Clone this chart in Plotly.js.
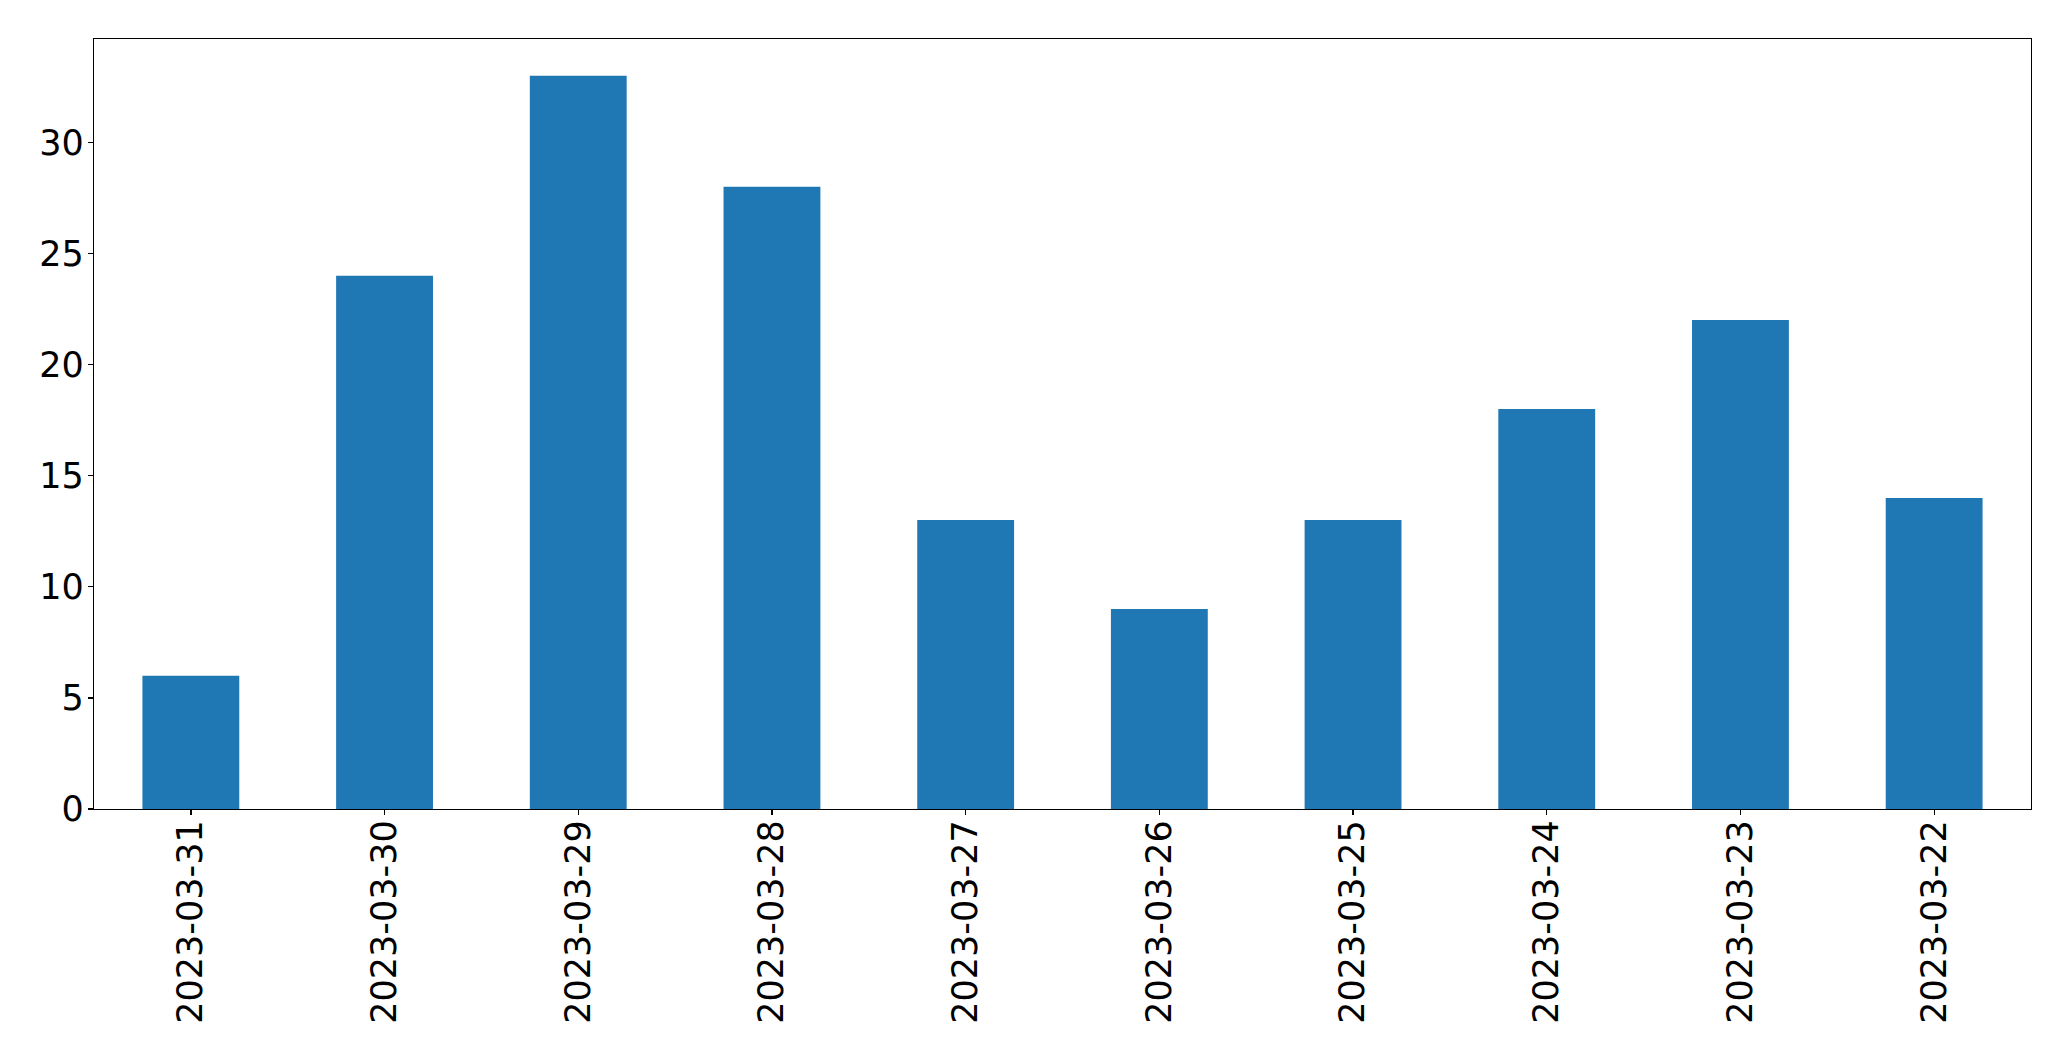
<!DOCTYPE html>
<html>
<head>
<meta charset="utf-8">
<script src="https://cdn.plot.ly/plotly-3.0.1.min.js"></script>
<style>html,body{margin:0;padding:0;background:#fff;}#chart{width:2071px;height:1061px;}</style>
</head>
<body>
<div id="chart"></div>
<script>
const dates = ["2023-03-31","2023-03-30","2023-03-29","2023-03-28","2023-03-27","2023-03-26","2023-03-25","2023-03-24","2023-03-23","2023-03-22"];
const counts = [6, 24, 33, 28, 13, 9, 13, 18, 22, 14];
const yTicks = [0, 5, 10, 15, 20, 25, 30];

const font = {family: "DejaVu Sans", size: 35, color: "#000"};
Plotly.newPlot("chart", [{
  type: "bar",
  x: dates,
  y: counts,
  width: 0.5,
  marker: {color: "#1f77b4", line: {width: 0}},
  hoverinfo: "x+y"
}], {
  width: 2071,
  height: 1061,
  margin: {l: 94, r: 40, t: 39, b: 252, pad: 0},
  paper_bgcolor: "#fff",
  plot_bgcolor: "#fff",
  showlegend: false,
  font: font,
  xaxis: {
    type: "category",
    range: [-0.5, 9.5],
    tickangle: -90,
    ticks: "outside",
    ticklen: 5,
    tickwidth: 1.3,
    tickcolor: "#000",
    showline: true,
    mirror: true,
    linecolor: "#000",
    linewidth: 1.3,
    showgrid: false,
    zeroline: false,
    tickfont: font,
    ticklabelstandoff: -9
  },
  yaxis: {
    range: [0, 34.65],
    tickvals: yTicks,
    ticktext: yTicks.map(String),
    ticks: "outside",
    ticklen: 5,
    tickwidth: 1.3,
    tickcolor: "#000",
    showline: true,
    mirror: true,
    linecolor: "#000",
    linewidth: 1.3,
    showgrid: false,
    zeroline: false,
    tickfont: font,
    ticklabelstandoff: -3
  }
}, {displayModeBar: false, staticPlot: true});
</script>
</body>
</html>
